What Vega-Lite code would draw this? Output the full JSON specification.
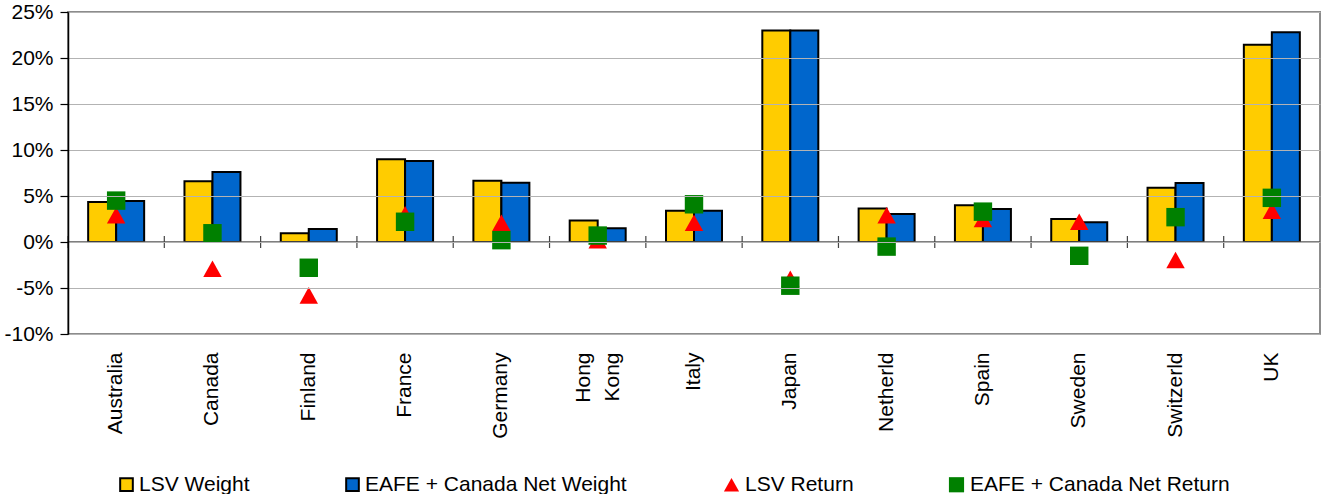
{
  "$schema": "https://vega.github.io/schema/vega-lite/v6.json",
  "width": 1252,
  "height": 322,
  "autosize": {"type": "none"},
  "padding": {"left": 68, "top": 12, "right": 2, "bottom": 160},
  "background": "white",
  "config": {
    "font": "Liberation Sans",
    "view": {"stroke": "#8c8c8c", "strokeWidth": 2},
    "axis": {"labelColor": "#000000", "labelFont": "Liberation Sans"},
    "legend": {"labelFont": "Liberation Sans", "labelFontSize": 21, "labelColor": "#000000", "labelLimit": 400}
  },
  "data": {
    "values": [
      {"country": "Australia", "series": "LSV Weight", "value": 4.35},
      {"country": "Canada", "series": "LSV Weight", "value": 6.6},
      {"country": "Finland", "series": "LSV Weight", "value": 0.95},
      {"country": "France", "series": "LSV Weight", "value": 9.0},
      {"country": "Germany", "series": "LSV Weight", "value": 6.65},
      {"country": "Hong Kong", "series": "LSV Weight", "value": 2.35},
      {"country": "Italy", "series": "LSV Weight", "value": 3.4},
      {"country": "Japan", "series": "LSV Weight", "value": 23.0},
      {"country": "Netherld", "series": "LSV Weight", "value": 3.65},
      {"country": "Spain", "series": "LSV Weight", "value": 4.0},
      {"country": "Sweden", "series": "LSV Weight", "value": 2.5},
      {"country": "Switzerld", "series": "LSV Weight", "value": 5.9},
      {"country": "UK", "series": "LSV Weight", "value": 21.45},
      {"country": "Australia", "series": "EAFE + Canada Net Weight", "value": 4.45},
      {"country": "Canada", "series": "EAFE + Canada Net Weight", "value": 7.6},
      {"country": "Finland", "series": "EAFE + Canada Net Weight", "value": 1.4},
      {"country": "France", "series": "EAFE + Canada Net Weight", "value": 8.8},
      {"country": "Germany", "series": "EAFE + Canada Net Weight", "value": 6.45},
      {"country": "Hong Kong", "series": "EAFE + Canada Net Weight", "value": 1.5},
      {"country": "Italy", "series": "EAFE + Canada Net Weight", "value": 3.4},
      {"country": "Japan", "series": "EAFE + Canada Net Weight", "value": 23.0},
      {"country": "Netherld", "series": "EAFE + Canada Net Weight", "value": 3.05},
      {"country": "Spain", "series": "EAFE + Canada Net Weight", "value": 3.6},
      {"country": "Sweden", "series": "EAFE + Canada Net Weight", "value": 2.15},
      {"country": "Switzerld", "series": "EAFE + Canada Net Weight", "value": 6.4},
      {"country": "UK", "series": "EAFE + Canada Net Weight", "value": 22.8},
      {"country": "Australia", "series": "LSV Return", "value": 2.9},
      {"country": "Canada", "series": "LSV Return", "value": -2.9},
      {"country": "Finland", "series": "LSV Return", "value": -5.8},
      {"country": "France", "series": "LSV Return", "value": 3.0},
      {"country": "Germany", "series": "LSV Return", "value": 2.1},
      {"country": "Hong Kong", "series": "LSV Return", "value": 0.2},
      {"country": "Italy", "series": "LSV Return", "value": 2.1},
      {"country": "Japan", "series": "LSV Return", "value": -4.0},
      {"country": "Netherld", "series": "LSV Return", "value": 2.9},
      {"country": "Spain", "series": "LSV Return", "value": 2.5},
      {"country": "Sweden", "series": "LSV Return", "value": 2.2},
      {"country": "Switzerld", "series": "LSV Return", "value": -1.95},
      {"country": "UK", "series": "LSV Return", "value": 3.4},
      {"country": "Australia", "series": "EAFE + Canada Net Return", "value": 4.5},
      {"country": "Canada", "series": "EAFE + Canada Net Return", "value": 0.95},
      {"country": "Finland", "series": "EAFE + Canada Net Return", "value": -2.8},
      {"country": "France", "series": "EAFE + Canada Net Return", "value": 2.2},
      {"country": "Germany", "series": "EAFE + Canada Net Return", "value": 0.2},
      {"country": "Hong Kong", "series": "EAFE + Canada Net Return", "value": 0.7},
      {"country": "Italy", "series": "EAFE + Canada Net Return", "value": 4.1},
      {"country": "Japan", "series": "EAFE + Canada Net Return", "value": -4.75},
      {"country": "Netherld", "series": "EAFE + Canada Net Return", "value": -0.5},
      {"country": "Spain", "series": "EAFE + Canada Net Return", "value": 3.3},
      {"country": "Sweden", "series": "EAFE + Canada Net Return", "value": -1.5},
      {"country": "Switzerld", "series": "EAFE + Canada Net Return", "value": 2.7},
      {"country": "UK", "series": "EAFE + Canada Net Return", "value": 4.8}
    ]
  },
  "layer": [
    {
      "transform": [{"filter": "indexof(datum.series, 'Weight') >= 0"}],
      "mark": {"type": "bar", "stroke": "#000000", "strokeWidth": 2},
      "encoding": {
        "x": {
          "field": "country", "type": "nominal", "sort": null,
          "scale": {"paddingInner": 0, "paddingOuter": 0},
          "axis": {
            "orient": "bottom", "title": null, "labelAngle": 270, "labelFontSize": 21,
            "labelAlign": "right", "labelBaseline": "middle",
            "ticks": false, "tickSize": 0, "domain": false, "labelPadding": 18,
            "labelLineHeight": 29,
            "labelOffset": {"condition": {"test": "datum.value == 'Hong Kong'", "value": -14}, "value": 0},
            "labelExpr": "datum.value == 'Hong Kong' ? ['Hong', 'Kong'] : datum.value"
          }
        },
        "xOffset": {
          "field": "series", "type": "nominal", "sort": ["LSV Weight", "EAFE + Canada Net Weight"],
          "scale": {"paddingInner": 0, "paddingOuter": 0.72}
        },
        "y": {
          "field": "value", "type": "quantitative",
          "scale": {"domain": [-10, 25], "nice": false, "zero": false},
          "axis": {
            "title": null, "values": [-10, -5, 0, 5, 10, 15, 20, 25],
            "labelExpr": "datum.value + '%'", "labelFontSize": 21, "labelPadding": 7,
            "tickSize": 8, "tickColor": "#000000", "domainColor": "#000000", "domainWidth": 1.5,
            "tickWidth": 1.2, "gridColor": "#b3b3b3", "gridWidth": 1, "zindex": 1
          }
        },
        "color": {
          "field": "series", "type": "nominal",
          "scale": {"domain": ["LSV Weight", "EAFE + Canada Net Weight"], "range": ["#FFCC00", "#0066CC"]},
          "legend": {
            "title": null, "orient": "none", "legendX": 48, "legendY": 462,
            "direction": "horizontal", "columns": 2, "columnPadding": 92,
            "symbolType": "square", "symbolSize": 160, "symbolStrokeColor": "#000000",
            "symbolStrokeWidth": 2, "labelOffset": 2
          }
        }
      }
    },
    {
      "data": {"values": [{"level": 0}]},
      "mark": {"type": "rule", "color": "#555555", "strokeWidth": 1.5},
      "encoding": {
        "y": {"field": "level", "type": "quantitative", "scale": {"domain": [-10, 25], "nice": false, "zero": false}}
      }
    },
    {
      "transform": [{"filter": "datum.series == 'LSV Weight'"}],
      "mark": {"type": "rule", "color": "#444444", "strokeWidth": 1.2},
      "encoding": {
        "x": {"field": "country", "type": "nominal", "sort": null, "bandPosition": 0},
        "y": {"datum": -0.65, "type": "quantitative"},
        "y2": {"datum": 0.65}
      }
    },
    {
      "transform": [{"filter": "indexof(datum.series, 'Return') >= 0"}],
      "mark": {"type": "point", "filled": true, "opacity": 1, "size": 340},
      "encoding": {
        "x": {"field": "country", "type": "nominal", "sort": null},
        "y": {"field": "value", "type": "quantitative", "scale": {"domain": [-10, 25], "nice": false, "zero": false}},
        "color": {
          "field": "series", "type": "nominal",
          "scale": {"domain": ["LSV Return", "EAFE + Canada Net Return"], "range": ["#FF0000", "#008000"]},
          "legend": {
            "title": null, "orient": "none", "legendX": 653, "legendY": 462,
            "direction": "horizontal", "columns": 2, "columnPadding": 92,
            "symbolSize": 230, "labelOffset": 3
          }
        },
        "shape": {
          "field": "series", "type": "nominal",
          "scale": {"domain": ["LSV Return", "EAFE + Canada Net Return"], "range": ["M0,-0.9L1,0.9L-1,0.9Z", "square"]},
          "legend": {
            "title": null, "orient": "none", "legendX": 653, "legendY": 462,
            "direction": "horizontal", "columns": 2, "columnPadding": 92,
            "symbolSize": 230, "labelOffset": 3
          }
        }
      }
    }
  ],
  "resolve": {"scale": {"color": "independent", "shape": "independent"}}
}
